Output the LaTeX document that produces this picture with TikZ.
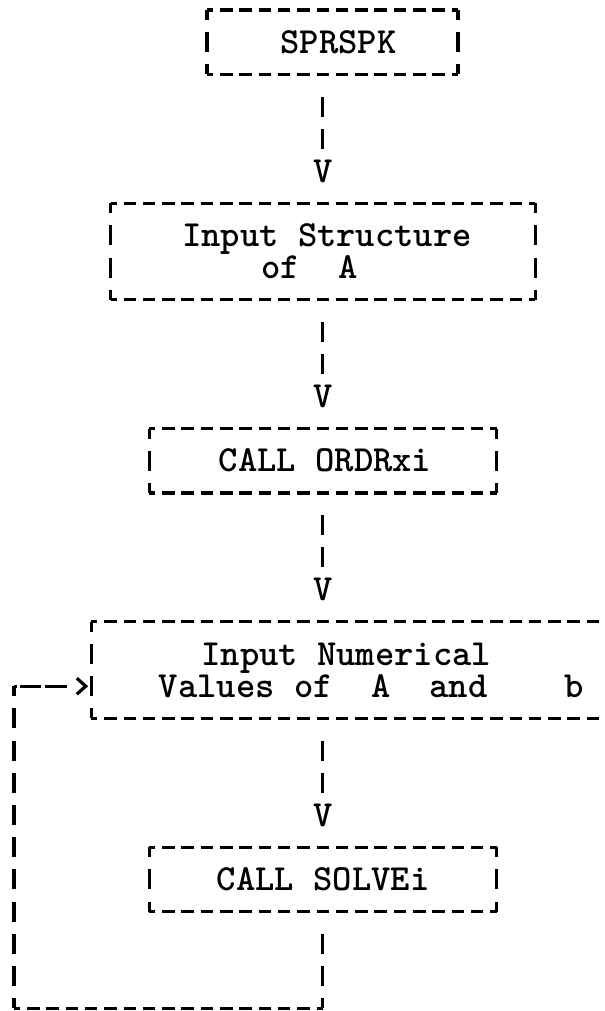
\documentclass[tikz,border=0pt]{standalone}
\usepackage{fontspec}
\newfontfamily\tw{lmmonolt10-bold.otf}
\usetikzlibrary{arrows.meta,fit}

% One grid step = one typewriter cell: 19.3pt across, 32.2pt down.
\newcommand\typedbox[1]{%
  \draw[hdash] (#1.north west) -- (#1.north east);
  \draw[hdash] (#1.south west) -- (#1.south east);
  \draw[vdash] (#1.north west) -- (#1.south west);
  \draw[vdash] (#1.north east) -- (#1.south east);
}

\begin{document}
\begin{tikzpicture}[x=19.3pt, y=-32.2pt,
  ink/.style={line width=3.2pt, black},
  hdash/.style={ink, dash pattern=on 12.5pt off 6.8pt, dash phase=6.25pt},
  vdash/.style={ink, dash pattern=on 20pt off 12.2pt, dash phase=10pt},
  lead/.style={ink, dash pattern=on 0pt off 22.2pt on 20pt off 12.2pt on 20pt off 12.2pt on 20pt off 12.2pt},
  area/.style={inner sep=0pt, outer sep=0pt},
  txt/.style={inner sep=0pt, anchor=base west, font=\tw\fontsize{36.8}{40}\selectfont},
  vtip/.style={inner sep=0pt, font=\tw\fontsize{36.8}{40}\selectfont},
]
\useasboundingbox (-0.7254,-0.3106) rectangle (30.6218,31.0870);

% boxes
\node[area, fit={(10,0) (23,2)}] (b1) {};
\node[area, fit={(5,6) (27,9)}] (b2) {};
\node[area, fit={(7,13) (25,15)}] (b3) {};
\node[area, fit={(4,19) (31,22)}] (b4) {};
\node[area, fit={(7,26) (25,28)}] (b5) {};
\typedbox{b1}
\typedbox{b2}
\typedbox{b3}
\typedbox{b4}
\typedbox{b5}

% box texts
\node[txt] (t1) at (13.8,1.342) {SPRSPK};
\node[txt] (t2) at (8.7,7.342) {Input Structure};
\node[txt] (t3) at (12.8,8.342) {of\ \ A};
\node[txt] (t4) at (10.6,14.342) {CALL ORDRxi};
\node[txt] (t5) at (9.7,20.342) {Input Numerical};
\node[txt] (t6) at (7.5,21.342) {Values of\ \ A\ \ and\ \ \ \ b};
\node[txt] (t7) at (10.5,27.342) {CALL SOLVEi};

% arrow heads typed as V
\node[vtip] (v1) at (16,5) {V};
\node[vtip] (v2) at (16,12) {V};
\node[vtip] (v3) at (16,18) {V};
\node[vtip] (v4) at (16,25) {V};

% downward connectors
\draw[lead] (b1.south -| v1) -- (v1.north);
\draw[lead] (b2.south -| v2) -- (v2.north);
\draw[lead] (b3.south -| v3) -- (v3.north);
\draw[lead] (b4.south -| v4) -- (v4.north);

% loop back from SOLVE to the numerical input
\coordinate (c1) at (16,31);
\coordinate (c2) at (0,31);
\coordinate (c3) at (0,21);
\draw[lead] (b5.south) -- (c1);
\draw[hdash] (c1) -- (c2);
\draw[vdash] (c2) -- (c3);
\draw[ink, dash pattern=on 3pt off 3pt on 21pt off 3.5pt on 22pt off 60pt,
      -{Straight Barb[length=9pt,width=16pt]}, shorten >=3pt]
  (c3) -- (c3 -| b4.west);
\end{tikzpicture}
\end{document}
